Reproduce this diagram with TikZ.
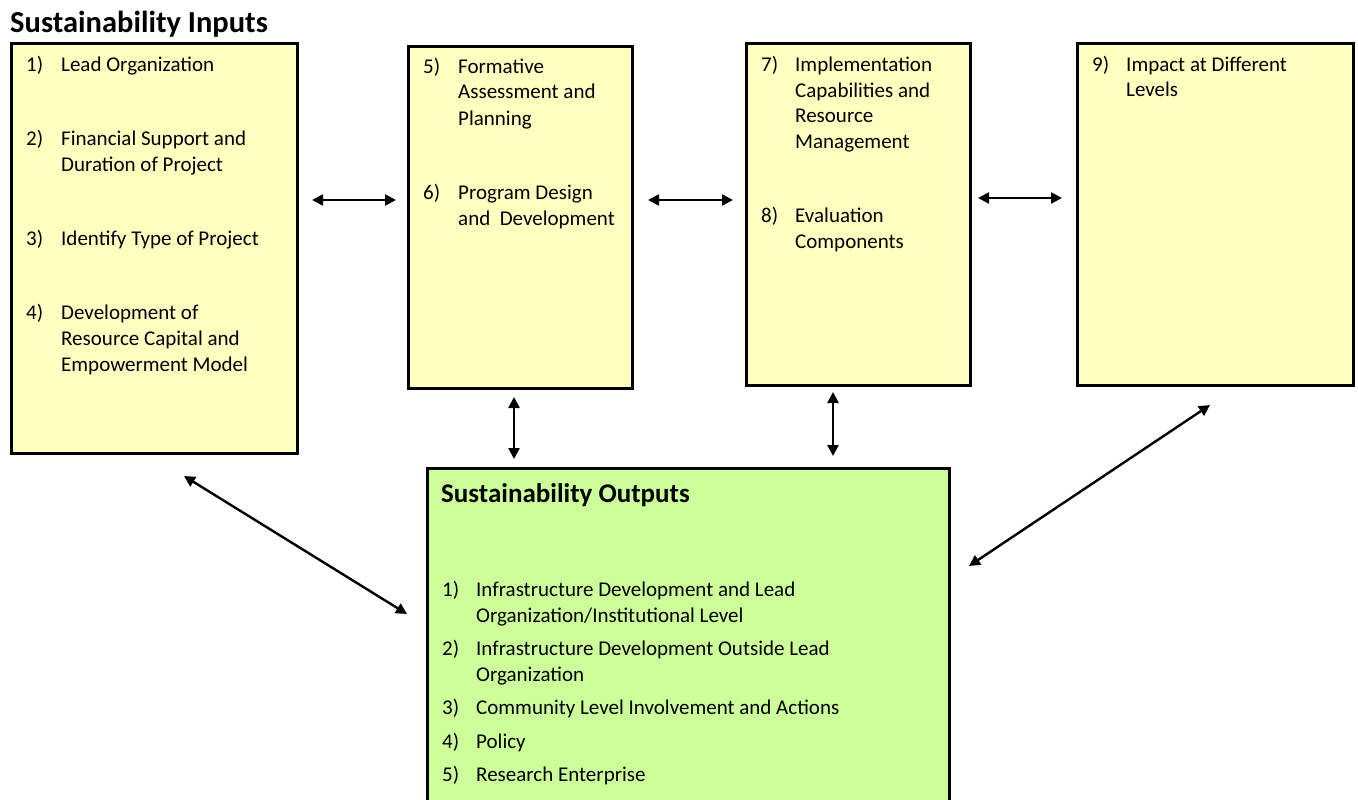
\documentclass[tikz,border=0pt]{standalone}
\usepackage{fontspec}
\setmainfont{Carlito}
\usetikzlibrary{arrows.meta}
\definecolor{boxyellow}{RGB}{255,255,192}
\definecolor{boxgreen}{RGB}{204,255,153}
\tikzset{
  ybox/.style={draw=black, line width=2.6pt, fill=boxyellow, anchor=north west, inner sep=0pt},
  gbox/.style={draw=black, line width=2.6pt, fill=boxgreen, anchor=north west, inner sep=0pt},
  txt/.style={anchor=base west, inner sep=0pt, font=\fontsize{21}{26}\selectfont},
  ttl/.style={anchor=base west, inner sep=0pt, font=\fontsize{30.5}{36}\selectfont\bfseries},
  gttl/.style={anchor=base west, inner sep=0pt, font=\fontsize{27}{32}\selectfont\bfseries},
  arr/.style={line width=2.4pt, {Triangle[length=11pt,width=11pt]}-{Triangle[length=11pt,width=11pt]}}
}
\begin{document}
\begin{tikzpicture}[x=1pt,y=-1pt]
\useasboundingbox (0,0) rectangle (1358,800);
\clip (0,0) rectangle (1358,800);
% boxes
\node[ybox, minimum width=286pt, minimum height=410pt] (b1) at (10,42) {};
\node[ybox, minimum width=224pt, minimum height=342pt] (b2) at (407,45) {};
\node[ybox, minimum width=224pt, minimum height=342pt] (b3) at (745,42) {};
\node[ybox, minimum width=276pt, minimum height=342pt] (b4) at (1076,42) {};
\node[gbox, minimum width=522pt, minimum height=345pt] (g) at (426,467) {};
% titles
\node[ttl] (tin) at (10,33) {Sustainability Inputs};
\node[gttl] (tout) at (441,502) {Sustainability Outputs};
% box 1
\node[txt] (n1) at (26,71) {1)};
\node[txt] (l1) at (61,71) {Lead Organization};
\node[txt] (n2) at (26,145) {2)};
\node[txt] (l2a) at (61,145) {Financial Support and};
\node[txt] (l2b) at (61,171) {Duration of Project};
\node[txt] (n3) at (26,245) {3)};
\node[txt] (l3) at (61,245) {Identify Type of Project};
\node[txt] (n4) at (26,319) {4)};
\node[txt] (l4a) at (61,319) {Development of};
\node[txt] (l4b) at (61,345) {Resource Capital and};
\node[txt] (l4c) at (61,371) {Empowerment Model};
% box 2
\node[txt] (n5) at (423,74) {5)};
\node[txt] (l5a) at (458,74) {Formative};
\node[txt] (l5b) at (458,99) {Assessment and};
\node[txt] (l5c) at (458,125) {Planning};
\node[txt] (n6) at (423,199) {6)};
\node[txt] (l6a) at (458,199) {Program Design};
\node[txt] (l6b) at (458,225) {and\ \ Development};
% box 3
\node[txt] (n7) at (761,71) {7)};
\node[txt] (l7a) at (795,71) {Implementation};
\node[txt] (l7b) at (795,97) {Capabilities and};
\node[txt] (l7c) at (795,122) {Resource};
\node[txt] (l7d) at (795,148) {Management};
\node[txt] (n8) at (761,222) {8)};
\node[txt] (l8a) at (795,222) {Evaluation};
\node[txt] (l8b) at (795,248) {Components};
% box 4
\node[txt] (n9) at (1092,71) {9)};
\node[txt] (l9a) at (1126,71) {Impact at Different};
\node[txt] (l9b) at (1126,96) {Levels};
% green box
\node[txt] (o1) at (442,596) {1)};
\node[txt] (o1a) at (476,596) {Infrastructure Development and Lead};
\node[txt] (o1b) at (476,622) {Organization/Institutional Level};
\node[txt] (o2) at (442,655) {2)};
\node[txt] (o2a) at (476,655) {Infrastructure Development Outside Lead};
\node[txt] (o2b) at (476,681) {Organization};
\node[txt] (o3) at (442,714) {3)};
\node[txt] (o3a) at (476,714) {Community Level Involvement and Actions};
\node[txt] (o4) at (442,748) {4)};
\node[txt] (o4a) at (476,748) {Policy};
\node[txt] (o5) at (442,781) {5)};
\node[txt] (o5a) at (476,781) {Research Enterprise};
% arrow end points
\coordinate (a1s) at (312,200); \coordinate (a1e) at (396,200);
\coordinate (a2s) at (648,200); \coordinate (a2e) at (733,200);
\coordinate (a3s) at (978,198); \coordinate (a3e) at (1062,198);
\coordinate (a4s) at (514,397); \coordinate (a4e) at (514,459);
\coordinate (a5s) at (833,392); \coordinate (a5e) at (833,456);
\coordinate (a6s) at (184,476); \coordinate (a6e) at (407,614);
\coordinate (a7s) at (969,566); \coordinate (a7e) at (1210,405);
\draw[arr] (a1s) -- (a1e);
\draw[arr] (a2s) -- (a2e);
\draw[arr] (a3s) -- (a3e);
\draw[arr] (a4s) -- (a4e);
\draw[arr] (a5s) -- (a5e);
\draw[arr] (a6s) -- (a6e);
\draw[arr] (a7s) -- (a7e);
\end{tikzpicture}
\end{document}
